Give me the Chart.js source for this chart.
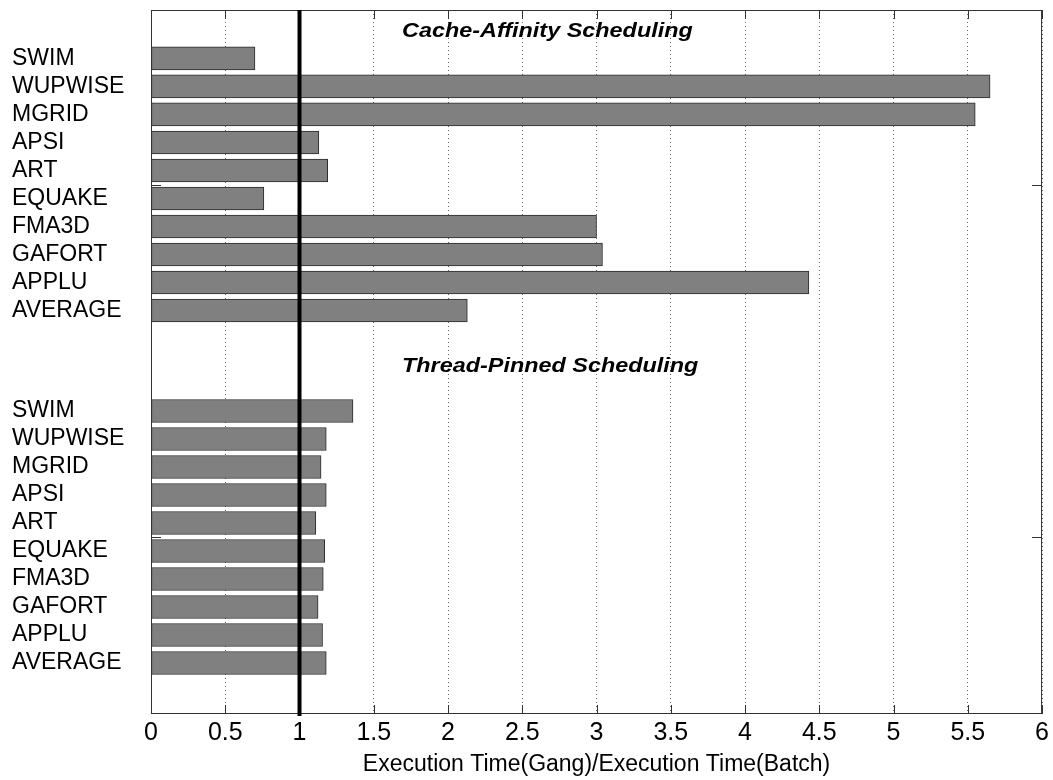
<!DOCTYPE html>
<html><head><meta charset="utf-8">
<script src="https://cdn.jsdelivr.net/npm/chart.js@4"></script>
<style>html,body{margin:0;padding:0;background:#fff}#wrap{width:1053px;height:780px}</style>
</head><body><div id="wrap"><canvas id="c" width="1053" height="780"></canvas></div>
<script>
// Benchmarks and normalised execution time (gang / batch) per scheduling policy
const benchmarks = ['SWIM', 'WUPWISE', 'MGRID', 'APSI', 'ART', 'EQUAKE', 'FMA3D', 'GAFORT', 'APPLU', 'AVERAGE'];
const cacheAffinity = [0.70, 5.65, 5.55, 1.13, 1.19, 0.76, 3.00, 3.04, 4.43, 2.13];
const threadPinned = [1.36, 1.18, 1.145, 1.18, 1.11, 1.17, 1.16, 1.125, 1.155, 1.18];
const groupTitles = ['Cache-Affinity Scheduling', 'Thread-Pinned Scheduling'];
const xTickValues = [0, 0.5, 1, 1.5, 2, 2.5, 3, 3.5, 4, 4.5, 5, 5.5, 6];
const baselineRatio = 1;

// Layout of the row axis (in row units, top = 0)
const ROW_SPAN = 25.14;
const GROUP_START = [1.73, 14.32];
const TITLE_BASELINE = [-0.78, -1.40];
const TITLE_X = 1.69;
const FRAME_Y_TICKS = [6.25, 18.82];

const groups = [cacheAffinity, threadPinned];
const rowPos = [];
const rowLabels = [];
const points = [];
groups.forEach((vals, g) => {
  vals.forEach((v, i) => {
    const y = GROUP_START[g] + i;
    rowPos.push(y);
    rowLabels.push(benchmarks[i]);
    points.push({ x: v, y: y });
  });
});

const FONT = "'Liberation Sans', Arial, sans-serif";

const decor = {
  id: 'decor',
  afterDatasetsDraw(chart) {
    const { ctx, chartArea: a, scales } = chart;
    const xs = scales.x, ys = scales.y;
    ctx.save();
    // frame
    ctx.strokeStyle = '#333';
    ctx.lineWidth = 1;
    ctx.strokeRect(a.left + 0.5, a.top + 0.5, a.right - a.left - 1, a.bottom - a.top - 1);
    // inward tick marks on the frame
    ctx.beginPath();
    xTickValues.forEach(v => {
      const px = Math.round(xs.getPixelForValue(v)) + 0.5;
      ctx.moveTo(px, a.bottom); ctx.lineTo(px, a.bottom - 9);
      ctx.moveTo(px, a.top); ctx.lineTo(px, a.top + 9);
    });
    FRAME_Y_TICKS.forEach(v => {
      const py = Math.round(ys.getPixelForValue(v)) + 0.5;
      ctx.moveTo(a.left, py); ctx.lineTo(a.left + 10, py);
      ctx.moveTo(a.right, py); ctx.lineTo(a.right - 10, py);
    });
    ctx.stroke();
    // reference line at ratio 1
    const bx = xs.getPixelForValue(baselineRatio);
    ctx.strokeStyle = '#000';
    ctx.lineWidth = 4;
    ctx.beginPath();
    ctx.moveTo(bx, a.top);
    ctx.lineTo(bx, a.bottom + 2);
    ctx.stroke();
    // group titles
    ctx.fillStyle = '#000';
    ctx.font = 'italic bold 20px ' + FONT;
    ctx.textBaseline = 'alphabetic';
    ctx.textAlign = 'left';
    groupTitles.forEach((t, g) => {
      const tx = xs.getPixelForValue(TITLE_X);
      const ty = ys.getPixelForValue(GROUP_START[g] + TITLE_BASELINE[g]);
      ctx.save();
      ctx.translate(tx, ty);
      ctx.scale(1.17, 1);
      ctx.fillText(t, 0, 0);
      ctx.restore();
    });
    ctx.restore();
  }
};

new Chart(document.getElementById('c'), {
  type: 'bar',
  data: {
    datasets: [{
      data: points,
      backgroundColor: '#808080',
      borderColor: '#2a2a2a',
      borderWidth: 1,
      borderSkipped: false,
      barThickness: 23
    }]
  },
  options: {
    indexAxis: 'y',
    responsive: false,
    animation: false,
    layout: { padding: { left: 12, right: 8, top: 10, bottom: 0 } },
    plugins: { legend: { display: false }, tooltip: { enabled: false } },
    scales: {
      x: {
        type: 'linear',
        min: 0, max: 6,
        afterBuildTicks: s => { s.ticks = xTickValues.map(v => ({ value: v })); },
        afterFit: s => { s.height = 66; },
        grid: { color: '#666', drawTicks: false, lineWidth: 1 },
        border: { display: false, dash: [1, 3] },
        ticks: {
          color: '#000', font: { family: FONT, size: 25 }, padding: 4, autoSkip: false, maxRotation: 0,
          callback: v => String(v)
        },
        title: { display: true, text: 'Execution Time(Gang)/Execution Time(Batch)', color: '#000', font: { family: FONT, size: 23 }, padding: { top: 0, bottom: 2 } }
      },
      y: {
        type: 'linear',
        reverse: true,
        offset: false,
        min: 0, max: ROW_SPAN,
        afterBuildTicks: s => { s.ticks = rowPos.map(v => ({ value: v })); },
        afterFit: s => { s.width = 139; },
        grid: { display: false },
        border: { display: false },
        ticks: {
          color: '#000', font: { family: FONT, size: 23, lineHeight: 0.8 }, crossAlign: 'far', padding: 0, autoSkip: false,
          callback: (v, i) => rowLabels[i]
        }
      }
    }
  },
  plugins: [decor]
});
</script>
</body></html>
